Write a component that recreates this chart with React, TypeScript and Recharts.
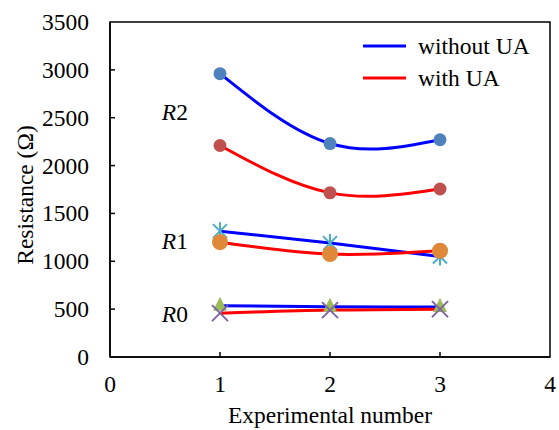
import { LineChart, Line, XAxis, YAxis, ReferenceDot, ReferenceArea } from "recharts"

const experiments = [1, 2, 3]
const r2Without = [2960, 2230, 2270]
const r2With = [2210, 1715, 1755]
const r1Without = [1315, 1190, 1050]
const r1With = [1200, 1075, 1110]
const r0Without = [535, 525, 522]
const r0With = [458, 490, 500]

const xTicks = [0, 1, 2, 3, 4]
const yTicks = [0, 500, 1000, 1500, 2000, 2500, 3000, 3500]
const legendItems = [
  { name: "without UA", color: "#0000FF" },
  { name: "with UA", color: "#FF0000" },
]

const data = experiments.map((x, i) => ({
  x,
  r2Without: r2Without[i],
  r2With: r2With[i],
  r1Without: r1Without[i],
  r1With: r1With[i],
  r0Without: r0Without[i],
  r0With: r0With[i],
}))

const FONT = "'Liberation Serif', 'Times New Roman', serif"
const FS = 23.5

const circleDot = (fill: string, r: number) => (p: any) =>
  <circle key={p.index} cx={p.cx} cy={p.cy} r={r} fill={fill} />

const triangleDot = (p: any) => (
  <path key={p.index} d={`M${p.cx},${p.cy - 9} L${p.cx + 7},${p.cy + 5} L${p.cx - 7},${p.cy + 5} Z`} fill="#9BBB59" />
)

const crossDot = (p: any) => (
  <g key={p.index} stroke="#8064A2" strokeWidth={2}>
    <line x1={p.cx - 8} y1={p.cy - 8} x2={p.cx + 8} y2={p.cy + 8} />
    <line x1={p.cx - 8} y1={p.cy + 8} x2={p.cx + 8} y2={p.cy - 8} />
  </g>
)

const starDot = (p: any) => (
  <g key={p.index} stroke="#4BACC6" strokeWidth={2}>
    <line x1={p.cx - 7} y1={p.cy - 7} x2={p.cx + 7} y2={p.cy + 7} />
    <line x1={p.cx - 7} y1={p.cy + 7} x2={p.cx + 7} y2={p.cy - 7} />
    <line x1={p.cx} y1={p.cy - 9} x2={p.cx} y2={p.cy + 9} />
  </g>
)

const XTick = (p: any) => (
  <g>
    {p.payload.value > 0 && p.payload.value < 4 && (
      <line x1={p.x} y1={357} x2={p.x} y2={352} stroke="#000" strokeWidth={1.5} />
    )}
    <text x={p.x} y={392} textAnchor="middle" fontFamily={FONT} fontSize={FS} fill="#000">
      {p.payload.value}
    </text>
  </g>
)

const YTick = (p: any) => (
  <g>
    {p.payload.value > 0 && p.payload.value < 3500 && (
      <line x1={110} y1={p.y} x2={115} y2={p.y} stroke="#000" strokeWidth={1.5} />
    )}
    <text x={89} y={p.y + 8} textAnchor="end" fontFamily={FONT} fontSize={FS} fill="#000">
      {p.payload.value}
    </text>
  </g>
)

const SeriesLabel = (digit: string) => (p: any) => (
  <text x={p.viewBox.x} y={p.viewBox.y + 8} textAnchor="middle" fontFamily={FONT} fontSize={FS} fill="#000">
    <tspan fontStyle="italic">R</tspan>
    <tspan>{digit}</tspan>
  </text>
)

const XTitle = () => (
  <text x={330} y={423} textAnchor="middle" fontFamily={FONT} fontSize={FS} fill="#000">
    Experimental number
  </text>
)

const YTitle = () => (
  <text x={33} y={195} transform="rotate(-90, 33, 195)" textAnchor="middle" fontFamily={FONT} fontSize={FS} fill="#000">
    Resistance (Ω)
  </text>
)

export default function App() {
  return (
    <div style={{ position: "absolute", left: 0, top: 0, width: 559, height: 430, background: "#fff", fontFamily: FONT }}>
      <LineChart width={559} height={430} data={data} margin={{ top: 22, right: 9, left: 0, bottom: 0 }}>
        <XAxis
          dataKey="x"
          type="number"
          domain={[0, 4]}
          ticks={xTicks}
          height={73}
          axisLine={{ stroke: "#000", strokeWidth: 1.5 }}
          tickLine={false}
          tick={XTick}
          label={XTitle}
        />
        <YAxis
          type="number"
          domain={[0, 3500]}
          ticks={yTicks}
          width={110}
          axisLine={{ stroke: "#000", strokeWidth: 1.5 }}
          tickLine={false}
          tick={YTick}
          label={YTitle}
        />
        <ReferenceArea x1={0} x2={4} y1={0} y2={3500} fill="none" stroke="#000" strokeWidth={1.5} />
        <Line dataKey="r0Without" type="natural" stroke="#0000FF" strokeWidth={3} dot={triangleDot} activeDot={false} isAnimationActive={false} />
        <Line dataKey="r0With" type="natural" stroke="#FF0000" strokeWidth={3} dot={crossDot} activeDot={false} isAnimationActive={false} />
        <Line dataKey="r1Without" type="natural" stroke="#0000FF" strokeWidth={3} dot={starDot} activeDot={false} isAnimationActive={false} />
        <Line dataKey="r1With" type="natural" stroke="#FF0000" strokeWidth={3} dot={circleDot("#E0883A", 8)} activeDot={false} isAnimationActive={false} />
        <Line dataKey="r2Without" type="natural" stroke="#0000FF" strokeWidth={3} dot={circleDot("#4F81BD", 6.5)} activeDot={false} isAnimationActive={false} />
        <Line dataKey="r2With" type="natural" stroke="#FF0000" strokeWidth={3} dot={circleDot("#C0504D", 6.5)} activeDot={false} isAnimationActive={false} />
        <ReferenceDot x={0.59} y={2560} r={0} label={SeriesLabel("2")} />
        <ReferenceDot x={0.59} y={1212} r={0} label={SeriesLabel("1")} />
        <ReferenceDot x={0.59} y={449} r={0} label={SeriesLabel("0")} />
      </LineChart>
      <svg width={190} height={60} style={{ position: "absolute", left: 363, top: 36, fontFamily: FONT }}>
        {legendItems.map((it, i) => (
          <g key={it.name}>
            <line x1={0} y1={10 + i * 32} x2={43} y2={10 + i * 32} stroke={it.color} strokeWidth={3} />
            <text x={55} y={18 + i * 32} fontSize={FS} fill="#000">{it.name}</text>
          </g>
        ))}
      </svg>
    </div>
  )
}
